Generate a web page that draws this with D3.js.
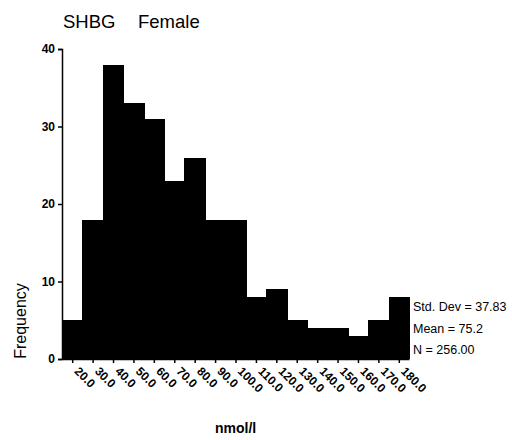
<!DOCTYPE html>
<html>
<head>
<meta charset="utf-8">
<script src="https://cdn.jsdelivr.net/npm/d3@7"></script>
<style>
  body { margin: 0; background: #fff; }
  svg { font-family: "Liberation Sans", Arial, sans-serif; }
</style>
</head>
<body>
<div id="chart"></div>
<script>
// bin centres (nmol/l), bin width 10
var binCenters = [20, 30, 40, 50, 60, 70, 80, 90, 100, 110, 120, 130, 140, 150, 160, 170, 180];
var counts = [5, 18, 38, 33, 31, 23, 26, 18, 18, 8, 9, 5, 4, 4, 3, 5, 8];
var yTicks = [0, 10, 20, 30, 40];
var statLines = ["Std. Dev = 37.83", "Mean = 75.2", "N = 256.00"];

var width = 512, height = 440;

var svg = d3.select("#chart").append("svg")
    .attr("width", width)
    .attr("height", height);

var x = d3.scaleLinear()
    .domain([15, 185])
    .range([62, 409]);

var y = d3.scaleLinear()
    .domain([0, 40])
    .range([359, 49]);

// bars
svg.selectAll(".bar")
    .data(counts)
    .enter()
    .append("rect")
    .attr("class", "bar")
    .attr("x", function(d, i){ return x(binCenters[i] - 5) })
    .attr("width", function(d, i){ return x(binCenters[i] + 5) - x(binCenters[i] - 5) + 1 })
    .attr("y", function(d){ return y(d) })
    .attr("height", function(d){ return y(0) - y(d) })
    .attr("fill", "#000")
    .attr("shape-rendering", "crispEdges");

// y axis
var yAxis = svg.append("g")
    .attr("transform", "translate(62,0)")
    .call(d3.axisLeft(y).tickValues(yTicks).tickSize(4).tickPadding(3));
yAxis.selectAll("path, line").attr("stroke-width", 1.5);
yAxis.selectAll("text")
    .style("font-size", "12px")
    .style("font-weight", "bold")
    .attr("fill", "#000");

// x axis
var xAxis = svg.append("g")
    .attr("transform", "translate(0,359)")
    .call(d3.axisBottom(x).tickValues(binCenters).tickSize(4).tickSizeOuter(0).tickFormat(d3.format(".1f")));
xAxis.selectAll("path, line").attr("stroke-width", 1.5);
xAxis.selectAll("text")
    .attr("y", 0)
    .attr("x", 0)
    .attr("dy", "0.35em")
    .attr("transform", "translate(4,10) rotate(45)")
    .style("text-anchor", "start")
    .style("font-size", "12px")
    .style("font-weight", "bold")
    .attr("fill", "#000");

// title
var title = svg.append("text")
    .attr("x", 63)
    .attr("y", 28)
    .style("font-size", "18.5px");
title.append("tspan").text("SHBG");
title.append("tspan").attr("x", 138).text("Female");

// axis titles
svg.append("text")
    .attr("transform", "translate(26,321) rotate(-90)")
    .style("text-anchor", "middle")
    .style("font-size", "16px")
    .text("Frequency");

svg.append("text")
    .attr("x", 215)
    .attr("y", 433)
    .style("font-size", "14px")
    .style("font-weight", "bold")
    .text("nmol/l");

// summary stats
svg.selectAll(".stat")
    .data(statLines)
    .enter()
    .append("text")
    .attr("class", "stat")
    .attr("x", 413)
    .attr("y", function(d, i){ return 311 + i * 21.5 })
    .style("font-size", "12.5px")
    .text(function(d){ return d });
</script>
</body>
</html>
